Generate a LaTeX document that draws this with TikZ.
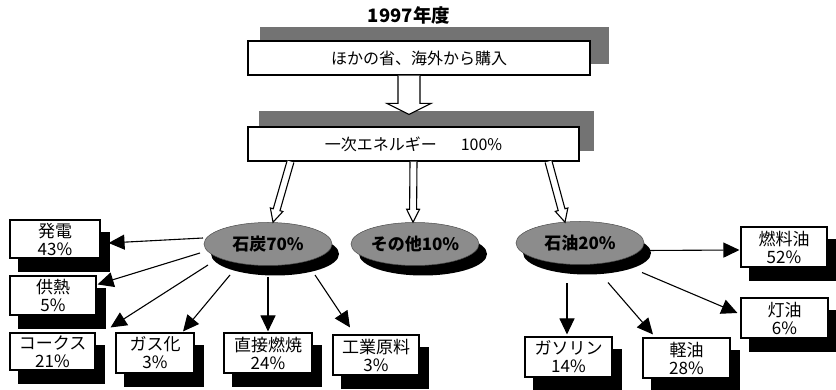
\documentclass[tikz,border=0pt]{standalone}
\usepackage{fontspec}
\setmainfont{Noto Sans CJK JP}
\usetikzlibrary{arrows.meta,shapes.geometric}
\pgfdeclarelayer{paper}
\pgfdeclarelayer{background}
\pgfdeclarelayer{arrowlayer}
\pgfsetlayers{paper,background,arrowlayer,main}
\tikzset{
  topbox/.style={draw, line width=1.1pt, fill=white, inner sep=0pt, font=\fontsize{16}{19}\selectfont},
  smallbox/.style={draw, line width=1.1pt, fill=white, inner sep=0pt, align=center, font=\fontsize{17}{18}\selectfont},
  ell/.style={ellipse, fill=black!45, draw=black!70, line width=0.5pt, minimum width=128pt, minimum height=43pt, inner sep=0pt, font=\bfseries\fontsize{17}{18}\selectfont},
  ellshadow/.style={ellipse, fill=black, minimum width=128pt, minimum height=43pt, inner sep=0pt},
  topshadow/.style={fill=black!55},
  boxshadow/.style={fill=black},
  arr/.style={line width=1.1pt, -{Triangle[length=16pt,width=15pt]}},
  hollowarr/.style={draw, line width=1.1pt, fill=white, line join=miter},
  titletext/.style={font=\bfseries\fontsize{18.5}{20}\selectfont}
}
\newcommand\hollowarrow[5]{%
  \path (#1); \pgfgetlastxy{\hAx}{\hAy}%
  \path (#2); \pgfgetlastxy{\hBx}{\hBy}%
  \pgfmathsetmacro\hAng{atan2(\hBy-\hAy,\hBx-\hAx)}%
  \pgfmathsetmacro\hLen{veclen(\hBx-\hAx,\hBy-\hAy)}%
  \pgfmathsetmacro\hNeck{\hLen-#5}%
  \draw[hollowarr, shift={(\hAx,\hAy)}, rotate=\hAng]
    (0pt,-#3pt) -- (\hNeck pt,-#3pt) -- (\hNeck pt,-#4pt) -- (\hLen pt,0pt)
    -- (\hNeck pt,#4pt) -- (\hNeck pt,#3pt) -- (0pt,#3pt);
}
\begin{document}
\begin{tikzpicture}[x=1pt,y=-1pt]
\begin{pgfonlayer}{paper}
\fill[white] (0,0) rectangle (836,390);
\end{pgfonlayer}
\useasboundingbox (0,0) rectangle (836,390);

% title
\node[titletext] (title) at (409,15) {1997年度};

% top boxes
\node[topbox, minimum width=342pt, minimum height=34pt] (b1) at (419,58) {ほかの省、海外から購入};
\node[topbox, minimum width=331pt, minimum height=34pt] (b2) at (413.5,144) {一次エネルギー\hspace{24pt}100\%};
\begin{pgfonlayer}{background}
  \fill[topshadow] ([shift={(13,-12)}]b1.south west) rectangle ([shift={(18,-13)}]b1.north east);
  \fill[topshadow] ([shift={(12,-11)}]b2.south west) rectangle ([shift={(14,-15)}]b2.north east);
\end{pgfonlayer}

% ellipses with shadows
\node[ellshadow] (coalsh) at (275,254) {};
\node[ell] (coal) at (268,244) {石炭70\%};
\node[ellshadow] (othersh) at (423,254) {};
\node[ell] (other) at (415,244) {その他10\%};
\node[ellshadow] (oilsh) at (587,253) {};
\node[ell] (oil) at (580,243) {石油20\%};

% small boxes
\node[smallbox, minimum width=90pt, minimum height=38pt] (hatsu) at (55,239) {発電\\43\%};
\node[smallbox, minimum width=86pt, minimum height=39pt] (kyo) at (53,295.5) {供熱\\5\%};
\node[smallbox, minimum width=85pt, minimum height=37pt] (coke) at (52.5,351.5) {コークス\\21\%};
\node[smallbox, minimum width=78pt, minimum height=40pt] (gas) at (155,353) {ガス化\\3\%};
\node[smallbox, minimum width=88pt, minimum height=40pt] (direct) at (268,353) {直接燃焼\\24\%};
\node[smallbox, minimum width=86pt, minimum height=40pt] (ind) at (376,355) {工業原料\\3\%};
\node[smallbox, minimum width=86pt, minimum height=40pt] (fuel) at (784,247) {燃料油\\52\%};
\node[smallbox, minimum width=87pt, minimum height=40pt] (kero) at (784.5,318) {灯油\\6\%};
\node[smallbox, minimum width=87pt, minimum height=40pt] (gaso) at (568.5,357) {ガソリン\\14\%};
\node[smallbox, minimum width=87pt, minimum height=40pt] (kei) at (686.5,358) {軽油\\28\%};

\begin{pgfonlayer}{background}
  \foreach \n in {hatsu,kyo,coke,gas,direct,ind,fuel,kero,gaso,kei}
    \fill[boxshadow] ([shift={(9,13)}]\n.south west) rectangle ([shift={(9,13)}]\n.north east);
\end{pgfonlayer}

% thin arrows
\begin{pgfonlayer}{arrowlayer}
  \draw[arr] ([shift={(-65,-6)}]coal.center) -- ([shift={(8,4)}]hatsu.east);
  \draw[arr] ([shift={(-68,9)}]coal.center) -- ([shift={(1,9)}]kyo.north east);
  \draw[arr] ([shift={(-60,21)}]coal.center) -- ([shift={(15,-5)}]coke.north east);
  \draw[arr] ([shift={(-38,31)}]coal.center) -- ([shift={(28,-1)}]gas.north);
  \draw[arr] ([shift={(0,33)}]coal.center) -- ([shift={(0,-1)}]direct.north);
  \draw[arr] ([shift={(47,31)}]coal.center) -- ([shift={(-26,-7)}]ind.north);
  \draw[arr] ([shift={(65,7.5)}]oil.center) -- ([shift={(-1,3)}]fuel.west);
  \draw[arr] ([shift={(62,29.5)}]oil.center) -- ([shift={(-3,-5)}]kero.west);
  \draw[arr] ([shift={(28,39.5)}]oil.center) -- ([shift={(-33.5,-3)}]kei.north);
  \draw[arr] ([shift={(-13,40.5)}]oil.center) -- ([shift={(-1.5,-2)}]gaso.north);
\end{pgfonlayer}

% hollow arrows
\hollowarrow{[shift={(-10,0)}]b1.south}{[shift={(-4.5,-12)}]b2.north}{11}{22}{11}
\hollowarrow{[shift={(-123,0)}]b2.south}{[shift={(5,0)}]coal.north}{3.5}{6.5}{13}
\hollowarrow{b2.south}{[shift={(-2,0)}]other.north}{3.5}{6.5}{13}
\hollowarrow{[shift={(135,0)}]b2.south}{[shift={(-15,1)}]oil.north}{3.5}{6.5}{13}
\end{tikzpicture}
\end{document}
